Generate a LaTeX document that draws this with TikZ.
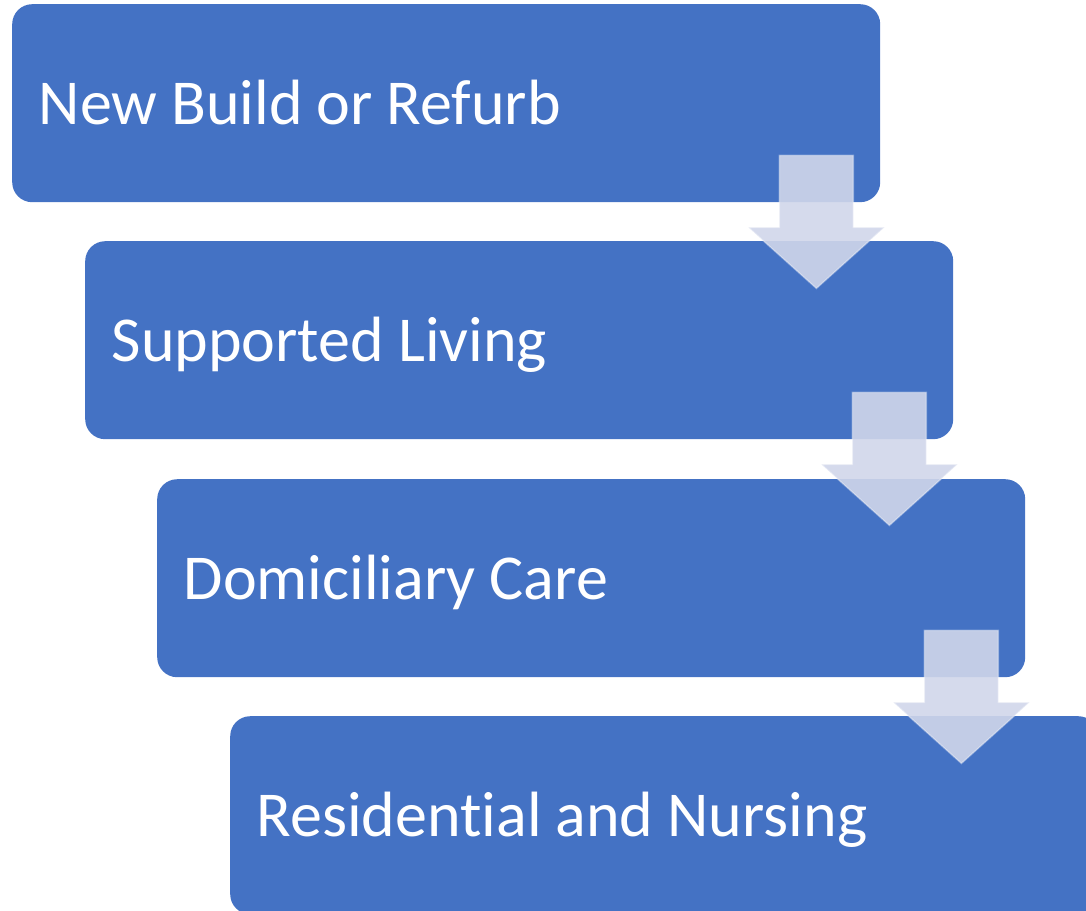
\documentclass[tikz,border=0pt]{standalone}
\usepackage{fontspec}
\setmainfont{Carlito}[Ligatures=NoCommon]
\definecolor{boxblue}{HTML}{4472C4}
\definecolor{arrowfill}{RGB}{208,214,234}

\begin{document}
\begin{tikzpicture}[x=1pt, y=-1pt]

\tikzset{stage/.style = {shape=rectangle, rounded corners=20pt, fill=boxblue, anchor=north west,
  minimum width=868pt, minimum height=198pt, text width=815pt, inner xsep=26.5pt, inner ysep=0pt,
  text height=42pt, text depth=0pt, align=left, text=white, font=\fontsize{64}{77}\selectfont,
  execute at begin node={\spaceskip=14pt\xspaceskip=14pt\relax}}}
\tikzset{flowarrow/.style = {fill=arrowfill, fill opacity=0.9, draw=white, draw opacity=0.35, line width=1.5pt}}

\clip (0,0) rectangle (1086,910);
\useasboundingbox (0,0) rectangle (1086,910);

%stages
\node[stage] (b1) at (12,4) {New Build or Refurb};
\node[stage] (b2) at (85,241) {Supported Living};
\node[stage] (b3) at (157,479) {Domiciliary Care};
\node[stage] (b4) at (230,716) {Residential and Nursing};

%arrows
\path[flowarrow] ([shift={(-101,-47)}]b1.south east) -- ++(74,0) -- ++(0,72) -- ++(31,0)
  -- ++(-68,61) -- ++(-68,-61) -- ++(31,0) -- cycle;
\path[flowarrow] ([shift={(-101,-47)}]b2.south east) -- ++(74,0) -- ++(0,72) -- ++(31,0)
  -- ++(-68,61) -- ++(-68,-61) -- ++(31,0) -- cycle;
\path[flowarrow] ([shift={(-101,-47)}]b3.south east) -- ++(74,0) -- ++(0,72) -- ++(31,0)
  -- ++(-68,61) -- ++(-68,-61) -- ++(31,0) -- cycle;

\end{tikzpicture}
\end{document}
